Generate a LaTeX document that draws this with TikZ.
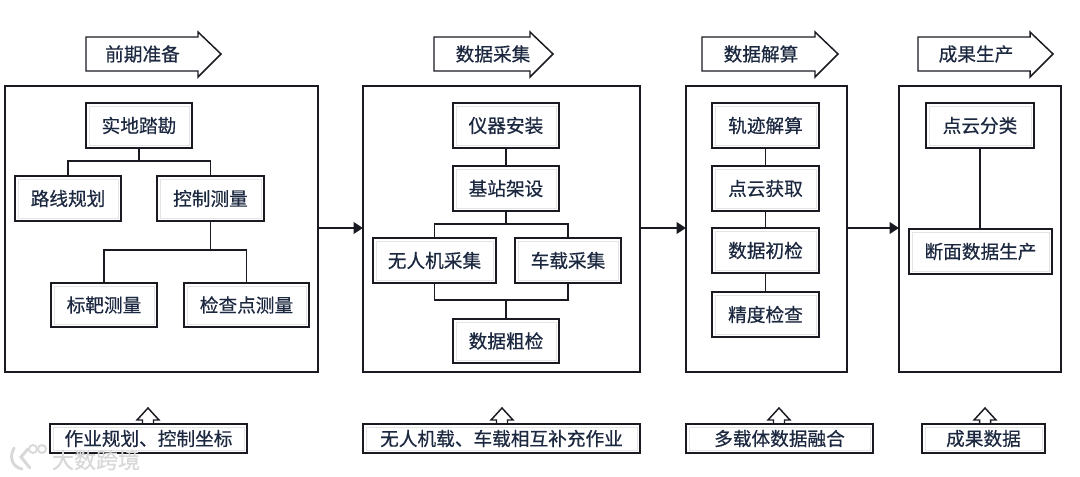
\documentclass[tikz,border=0pt]{standalone}
\usepackage{fontspec}
\setmainfont{Noto Sans CJK SC}[FakeBold=0.5]
\usetikzlibrary{arrows.meta,calc}
\definecolor{ink}{HTML}{1A1A22}
\definecolor{txt}{HTML}{1C2840}
\definecolor{innerline}{HTML}{E2E4E6}
\definecolor{wmcolor}{HTML}{D8D8D8}
\tikzset{
  panelbox/.style={draw=ink,line width=1.1pt,fill=white,outer sep=0pt,inner sep=0pt},
  stepbox/.style={draw=ink,line width=1.2pt,outer sep=0pt,inner sep=0pt,text=txt,font=\fontsize{14}{16}\selectfont},
  linkline/.style={draw=ink,line width=1pt},
  flowline/.style={draw=ink,line width=2pt,-{Triangle[length=7pt,width=8.5pt]}},
  shapeline/.style={draw=ink,line width=1.1pt,line join=miter,fill=white},
  arrowtext/.style={text=txt,font=\fontsize{14}{16}\selectfont,inner sep=0pt},
  wmfont/.style={text=wmcolor,font=\fontsize{16.5}{18}\selectfont,inner sep=0pt}
}
% name, x1, y1, x2, y2, text, in reference pixels
\newcommand{\stepnode}[6]{%
  \pgfmathsetmacro{\bw}{(#4-#2)*0.75}\pgfmathsetmacro{\bh}{(#5-#3)*0.75}%
  \fill[white] (#2,#3) rectangle (#4,#5);%
  \draw[innerline,line width=0.6pt] ({#2+3},{#3+3}) rectangle ({#4-3},{#5-3});%
  \node[stepbox,minimum width=\bw pt,minimum height=\bh pt] (#1) at ({(#2+#4)/2},{(#3+#5)/2}) {#6};%
}
\newcommand{\panelnode}[5]{%
  \pgfmathsetmacro{\bw}{(#4-#2)*0.75}\pgfmathsetmacro{\bh}{(#5-#3)*0.75}%
  \node[panelbox,minimum width=\bw pt,minimum height=\bh pt] (#1) at ({(#2+#4)/2},{(#3+#5)/2}) {};%
}
% name, left, head start, tip, text centre, text
\newcommand{\toparrow}[6]{%
  \draw[shapeline] (#2,37) -- (#3,37) -- (#3,32) -- (#4,54) -- (#3,77) -- (#3,71) -- (#2,71) -- cycle;%
  \node[arrowtext] (#1) at (#5,54) {#6};%
}
% centre x
\newcommand{\upmark}[1]{%
  \draw[shapeline] ({#1-5.5},426) -- ({#1-5.5},420) -- ({#1-11},420) -- (#1,408) -- ({#1+11},420) -- ({#1+5.5},420) -- ({#1+5.5},426) -- cycle;%
}
\begin{document}
\begin{tikzpicture}[x=0.75pt,y=-0.75pt]
\useasboundingbox[fill=white] (0,0) rectangle (1080,477);

% top arrows
\toparrow{t1}{86}{198}{221}{142.5}{前期准备}
\toparrow{t2}{434}{530}{553}{493}{数据采集}
\toparrow{t3}{702}{815}{838}{761}{数据解算}
\toparrow{t4}{918}{1030}{1053}{976}{成果生产}

% panels
\panelnode{p1}{5}{86}{318}{372}
\panelnode{p2}{363}{86}{640}{372}
\panelnode{p3}{686}{86}{847}{372}
\panelnode{p4}{899}{86}{1061}{372}

% panel 1
\stepnode{a1}{86}{103}{192}{148}{实地踏勘}
\stepnode{a2}{15}{176}{121}{221}{路线规划}
\stepnode{a3}{157}{176}{264}{221}{控制测量}
\stepnode{a4}{51}{283}{157}{327}{标靶测量}
\stepnode{a5}{184}{283}{309}{327}{检查点测量}
\draw[linkline] (a1.south) -- ++(0,13) -| (a2.north);
\draw[linkline] (a1.south) -- ++(0,13) -| (a3.north);
\draw[linkline] (a3.south) -- ++(0,29) -| (a4.north);
\draw[linkline] (a3.south) -- ++(0,29) -| (a5.north);

% panel 2
\stepnode{b1}{453}{103}{559}{148}{仪器安装}
\stepnode{b2}{453}{166}{559}{211}{基站架设}
\stepnode{b3}{373}{238}{496}{283}{无人机采集}
\stepnode{b4}{515}{238}{621}{283}{车载采集}
\stepnode{b5}{453}{319}{559}{363}{数据粗检}
\draw[linkline] (b1.south) -- (b2.north);
\draw[linkline] (b2.south) -- ++(0,13) -| (b3.north);
\draw[linkline] (b2.south) -- ++(0,13) -| (b4.north);
\draw[linkline] (b5.north) -- ++(0,-19) -| (b3.south);
\draw[linkline] (b5.north) -- ++(0,-19) -| (b4.south);

% panel 3
\stepnode{c1}{712}{103}{819}{148}{轨迹解算}
\stepnode{c2}{712}{166}{819}{211}{点云获取}
\stepnode{c3}{712}{228}{819}{273}{数据初检}
\stepnode{c4}{712}{292}{819}{337}{精度检查}
\draw[linkline] (c1.south) -- (c2.north);
\draw[linkline] (c2.south) -- (c3.north);
\draw[linkline] (c3.south) -- (c4.north);

% panel 4
\stepnode{d1}{926}{103}{1034}{148}{点云分类}
\stepnode{d2}{909}{229}{1052}{274}{断面数据生产}
\draw[linkline] (d1.south) -- (d1.south |- d2.north);

% flow arrows
\draw[flowline] ([yshift=0.75pt]p1.east) -- ([yshift=0.75pt]p2.west);
\draw[flowline] ([yshift=0.75pt]p2.east) -- ([yshift=0.75pt]p3.west);
\draw[flowline] ([yshift=0.75pt]p3.east) -- ([yshift=0.75pt]p4.west);

% bottom arrows and labels
\upmark{148}
\upmark{502}
\upmark{779}
\upmark{985}
\stepnode{e1}{50}{424}{247}{453}{作业规划、控制坐标}
\stepnode{e2}{363}{424}{640}{453}{无人机载、车载相互补充作业}
\stepnode{e3}{686}{424}{873}{453}{多载体数据融合}
\stepnode{e4}{922}{424}{1045}{453}{成果数据}

% watermark
\draw[wmcolor,line width=2.2pt,line cap=round] (14,448) .. controls (9,457) and (12,467) .. (22,469);
\draw[wmcolor,line width=2.2pt,line cap=round] (28,449) -- (21,457) -- (30,468);
\draw[wmcolor,line width=1.4pt] (33,449) circle [radius=4];
\draw[wmcolor,line width=1.4pt] (42,449) circle [radius=4];
\node[wmfont] (wm) at (96,460) {大数跨境};
\end{tikzpicture}
\end{document}
